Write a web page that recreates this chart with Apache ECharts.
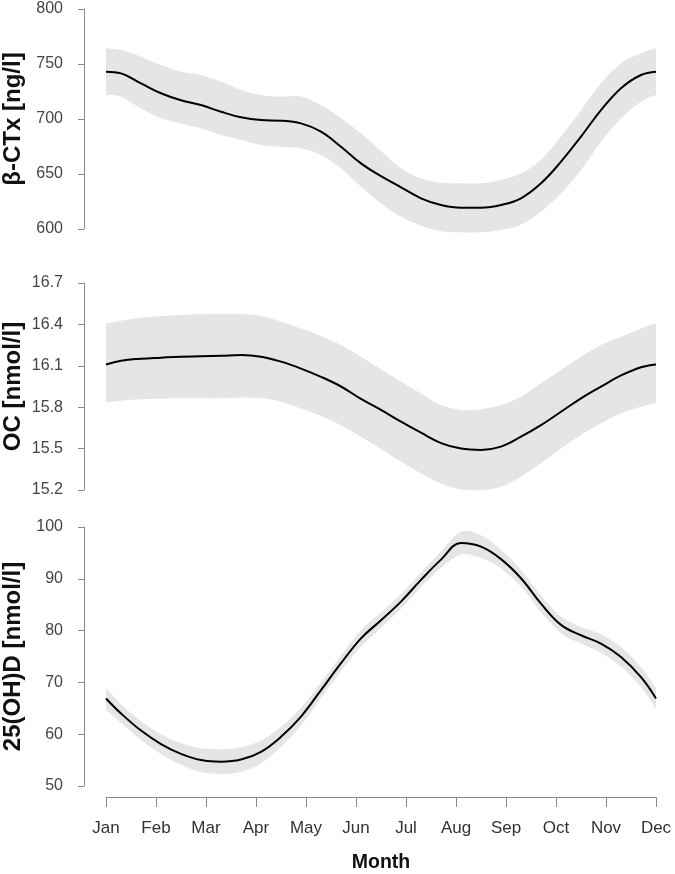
<!DOCTYPE html>
<html>
<head>
<meta charset="utf-8">
<script src="https://cdn.jsdelivr.net/npm/echarts@6/dist/echarts.min.js"></script>
<style>
html,body{margin:0;padding:0;background:#fff;}
#c{width:675px;height:874px;}
</style>
</head>
<body>
<div id="c"></div>
<script>
const months = ['Jan','Feb','Mar','Apr','May','Jun','Jul','Aug','Sep','Oct','Nov','Dec'];
const monthPos = [1,1.3,1.7,2.1,2.5,2.9,3.3,3.7,4.1,4.5,4.9,5.3,5.7,6.1,6.5,6.9,7.3,7.7,8.1,8.5,8.9,9.3,9.7,10.1,10.5,10.9,11.3,11.7,12];

const ctxMean  = [743,741.5,732.4,723.4,717,712.7,706.6,701.5,699,698.5,696,688.5,674.8,659.7,648,637.9,627.9,621.8,619.4,619.4,621.8,627.9,641.5,661.2,684,708,728,740,743];
const ctxUpper = [764.3,762.7,756.7,749,743,740,734,726.4,721.8,720.3,720.3,712.7,700.6,687,671,655.2,646,642,641.5,641.5,644.5,650.6,662.7,684,708,732.4,750.6,759.7,764.3];
const ctxLower = [721.8,720.3,709.7,700.6,696,691.5,685.5,681,676.4,674.8,673.4,667.3,655.2,638.5,623.4,611.2,603,598,597,597,599,604,615.7,632.4,653.6,679.4,700.6,715.7,721.8];

const ocMean  = [16.11,16.137,16.151,16.159,16.166,16.169,16.173,16.178,16.166,16.13,16.08,16.02,15.95,15.86,15.78,15.695,15.615,15.54,15.50,15.49,15.514,15.586,15.67,15.767,15.864,15.949,16.03,16.09,16.11];
const ocUpper = [16.408,16.427,16.449,16.46,16.468,16.473,16.475,16.475,16.46,16.42,16.37,16.316,16.25,16.166,16.075,15.985,15.90,15.816,15.78,15.785,15.816,15.876,15.973,16.07,16.166,16.25,16.31,16.37,16.408];
const ocLower = [15.833,15.847,15.857,15.862,15.864,15.864,15.864,15.87,15.864,15.84,15.79,15.736,15.67,15.586,15.497,15.405,15.32,15.248,15.205,15.20,15.224,15.296,15.393,15.50,15.60,15.683,15.756,15.804,15.828];

const vdMean  = [66.9,64.0,60.7,58.1,56.2,55.0,54.7,55.1,56.6,59.5,63.4,68.5,73.7,78.5,82.0,85.6,89.8,93.7,96.9,96.2,93.8,90.1,85.2,81.1,79.1,77.5,74.9,71.0,66.9];
const vdUpper = [68.9,65.8,62.5,60.0,58.3,57.3,57.1,57.5,58.8,61.4,65.1,70.0,75.2,80.1,83.5,87.0,91.2,95.3,99.1,98.4,95.6,91.7,86.8,82.7,80.7,79.3,76.8,72.9,68.9];
const vdLower = [64.7,62.2,58.9,56.2,54.1,52.7,52.3,52.7,54.4,57.6,61.7,67.0,72.2,76.9,80.5,84.2,88.4,92.1,94.7,94.0,92.0,88.5,83.6,79.5,77.5,75.7,73.0,69.1,64.9];

const ctxTicks = [600,800,50];
const ocTicks  = [15.2,16.7,0.3];
const vdTicks  = [50,100,10];

const axisColor = '#8a8a8a';
const fontFam = '"Liberation Sans",Arial,sans-serif';

function pairs(ys){ return monthPos.map((x,i)=>[x, ys[i]]); }

// Catmull-Rom to cubic Bezier path through pixel points
function curveSegs(pts){
  let d = '';
  for (let i = 0; i < pts.length - 1; i++) {
    const p0 = pts[i-1] || pts[i], p1 = pts[i], p2 = pts[i+1], p3 = pts[i+2] || pts[i+1];
    const c1x = p1[0] + (p2[0]-p0[0])/6, c1y = p1[1] + (p2[1]-p0[1])/6;
    const c2x = p2[0] - (p3[0]-p1[0])/6, c2y = p2[1] - (p3[1]-p1[1])/6;
    d += ' C' + c1x + ',' + c1y + ' ' + c2x + ',' + c2y + ' ' + p2[0] + ',' + p2[1];
  }
  return d;
}

const grids = [
  {left:106, right:19, top:9, height:220, outerBoundsMode:'none', containLabel:false},
  {left:106, right:19, top:283, height:207, outerBoundsMode:'none', containLabel:false},
  {left:106, right:19, top:527, height:259, outerBoundsMode:'none', containLabel:false}
];

function yAx(idx, t, name, dec){
  return {
    type:'value', gridIndex:idx, min:t[0], max:t[1], interval:t[2],
    offset:22,
    name:name, nameLocation:'middle', nameGap:59, nameRotate:90, nameMoveOverlap:false,
    nameTextStyle:{fontFamily:fontFam, fontWeight:'bold', fontSize:24, color:'#111'},
    axisLine:{show:true, lineStyle:{color:axisColor, width:1}},
    axisTick:{show:true, length:6, lineStyle:{color:axisColor}},
    axisLabel:{show:true, margin:21, color:'#444', fontSize:16, fontFamily:fontFam,
      formatter: v => dec ? v.toFixed(dec) : String(v)},
    splitLine:{show:false}
  };
}

function xAx(idx, show){
  return {
    type:'value', gridIndex:idx, min:1, max:12, interval:1,
    show:show,
    offset:11,
    name: show ? 'Month' : '', nameLocation:'middle', nameGap:56, nameMoveOverlap:false,
    nameTextStyle:{fontFamily:fontFam, fontWeight:'bold', fontSize:19.5, color:'#111'},
    axisLine:{show:true, lineStyle:{color:axisColor, width:1}},
    axisTick:{show:true, length:10, lineStyle:{color:axisColor}},
    axisLabel:{show:true, margin:23, color:'#333', fontSize:17, fontFamily:fontFam,
      formatter: v => months[Math.round(v)-1] || ''},
    splitLine:{show:false}
  };
}

function bandSeries(idx, up, lo, mean){
  return [
    {type:'custom', xAxisIndex:idx, yAxisIndex:idx, coordinateSystem:'cartesian2d',
      data:[[monthPos[0], lo[0]]], silent:true, z:1, clip:false,
      renderItem: function(params, api){
        const upPts = monthPos.map((x,i)=>api.coord([x, up[i]]));
        const loPts = monthPos.map((x,i)=>api.coord([x, lo[i]])).reverse();
        let d = 'M' + upPts[0][0] + ',' + upPts[0][1] + curveSegs(upPts);
        d += ' L' + loPts[0][0] + ',' + loPts[0][1] + curveSegs(loPts) + ' Z';
        return {type:'path', shape:{pathData:d}, style:{fill:'#e5e5e5', stroke:null}};
      }
    },
    {type:'line', xAxisIndex:idx, yAxisIndex:idx, data:pairs(mean), smooth:0.4, clip:false,
      symbol:'none', lineStyle:{color:'#000', width:2}, z:3}
  ];
}

const chart = echarts.init(document.getElementById('c'), null, {renderer:'canvas'});
chart.setOption({
  animation:false,
  backgroundColor:'#fff',
  grid:grids,
  xAxis:[xAx(0,false), xAx(1,false), xAx(2,true)],
  yAxis:[yAx(0,ctxTicks,'β-CTx [ng/l]',0), yAx(1,ocTicks,'OC [nmol/l]',1), yAx(2,vdTicks,'25(OH)D [nmol/l]',0)],
  series:[].concat(
    bandSeries(0, ctxUpper, ctxLower, ctxMean),
    bandSeries(1, ocUpper, ocLower, ocMean),
    bandSeries(2, vdUpper, vdLower, vdMean)
  )
});
</script>
</body>
</html>
